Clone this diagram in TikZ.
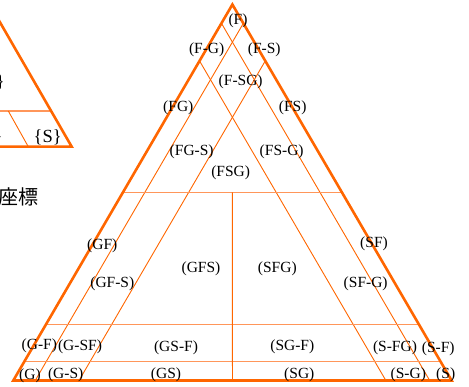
\documentclass[tikz,border=0pt]{standalone}
\usepackage{fontspec}
\usetikzlibrary{calc}
\setmainfont{Liberation Serif}
\newfontfamily\cjkfont{Noto Sans CJK JP}
\definecolor{org}{RGB}{255,102,0}
\definecolor{orglight}{RGB}{255,150,90}
\begin{document}
\begin{tikzpicture}[x=1pt,y=-1pt,
  edge/.style={draw=org,line width=2.6pt,line join=miter},
  thin/.style={draw=org,line width=0.9pt},
  hline/.style={draw=orglight,line width=1.2pt},
  lbl/.style={font=\fontsize{15.5}{15.5}\selectfont,inner sep=0pt},
  big/.style={font=\fontsize{18.5}{18.5}\selectfont,inner sep=0pt}]
\useasboundingbox (0,0) rectangle (469,387);
\clip (0,0) rectangle (469,387);
% main triangle corners
\coordinate (A) at (232.4,4.5);
\coordinate (B) at (13.3,380.5);
\coordinate (C) at (451.6,380.5);
% S = 5% and 15% lines
\draw[thin] (barycentric cs:A=0.95,C=0.05) -- (barycentric cs:B=0.95,C=0.05);
\draw[thin] (barycentric cs:A=0.85,C=0.15) -- (barycentric cs:B=0.85,C=0.15);
% G = 5% and 15% lines
\draw[thin] (barycentric cs:A=0.95,B=0.05) -- (barycentric cs:C=0.95,B=0.05);
\draw[thin] (barycentric cs:A=0.85,B=0.15) -- (barycentric cs:C=0.85,B=0.15);
% F = 50%, 15%, 5% lines
\draw[hline] (barycentric cs:A=0.5,B=0.5) -- (barycentric cs:A=0.5,C=0.5);
\draw[hline] (barycentric cs:A=0.15,B=0.85) -- (barycentric cs:A=0.15,C=0.85);
\draw[hline] (barycentric cs:A=0.05,B=0.95) -- (barycentric cs:A=0.05,C=0.95);
% G = S line
\draw[thin] (barycentric cs:A=0.5,B=0.25,C=0.25) -- (barycentric cs:B=0.5,C=0.5);
% outline
\draw[edge] (A) -- (B) -- (C) -- cycle;
% partial left triangle
\coordinate (pc) at (71.7,146.7);
\coordinate (pl) at (-20,146.7);
\coordinate (pt) at (-12,1.5);
\coordinate (ph1) at (-20,111);
\coordinate (ph2) at (51.1,111);
\coordinate (pd1) at (8.3,111);
\coordinate (pd2) at (28.3,146.7);
\draw[hline] (ph1) -- (ph2);
\draw[thin] (pd1) -- (pd2);
\draw[edge] (pt) -- (pc) -- (pl);
\node[big,anchor=east] (b1) at (5,82) {\}};
\node[big,anchor=east] (b2) at (3,137) {\}};
\node[big] (sS) at (47.7,137) {\{S\}};
\node[anchor=east,inner sep=0pt,font=\cjkfont\fontsize{20}{20}\selectfont] (zb) at (39,197) {座標};
% labels
\node[lbl] (lF) at (238,21) {(F)};
\node[lbl] (lFG1) at (206.7,50) {(F-G)};
\node[lbl] (lFS1) at (264.3,50) {(F-S)};
\node[lbl] (lFSG1) at (240.7,82) {(F-SG)};
\node[lbl] (lFG) at (178.3,108) {(FG)};
\node[lbl] (lFS) at (292.7,108) {(FS)};
\node[lbl] (lFGS) at (191.7,152) {(FG-S)};
\node[lbl] (lFSG2) at (281.7,152) {(FS-G)};
\node[lbl] (lFSG) at (230.7,172.5) {(FSG)};
\node[lbl] (lGF) at (102.3,246) {(GF)};
\node[lbl] (lGFS1) at (112.3,284) {(GF-S)};
\node[lbl] (lGFS) at (201,268.5) {(GFS)};
\node[lbl] (lSFG) at (277.3,268.5) {(SFG)};
\node[lbl] (lSF) at (374,244) {(SF)};
\node[lbl] (lSFG1) at (365.7,284) {(SF-G)};
\node[lbl] (lGF1) at (39.3,346) {(G-F)};
\node[lbl] (lGSF) at (80,347) {(G-SF)};
\node[lbl] (lGSF1) at (176,348) {(GS-F)};
\node[lbl] (lSGF1) at (292.3,347) {(SG-F)};
\node[lbl] (lSFG2) at (395,347.7) {(S-FG)};
\node[lbl] (lSF1) at (438.3,349) {(S-F)};
\node[lbl] (lG) at (30,375.5) {(G)};
\node[lbl] (lGS1) at (65.7,375) {(G-S)};
\node[lbl] (lGS) at (166,375) {(GS)};
\node[lbl] (lSG) at (299.3,375) {(SG)};
\node[lbl] (lSG1) at (408.3,374.5) {(S-G)};
\node[lbl] (lS) at (445.7,374.5) {(S)};
\end{tikzpicture}
\end{document}
